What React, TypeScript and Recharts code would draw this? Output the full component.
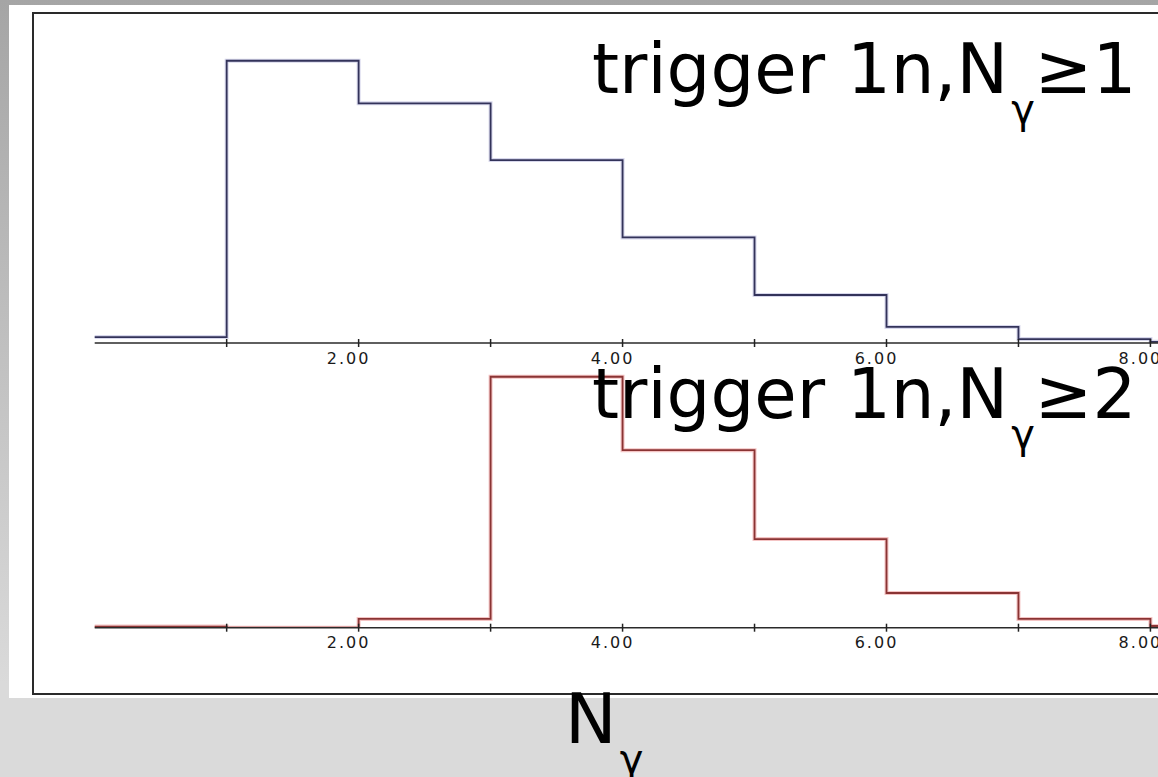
import { LineChart, Line, XAxis, YAxis } from 'recharts'

// bin lower edges (N_gamma), the last one only closes the final step
const binEdges = [0, 1, 2, 3, 4, 5, 6, 7, 8, 9]
// trigger 1n, N_gamma >= 1 (arbitrary units)
const countsGe1 = [21, 1000, 849, 648, 374, 170, 57, 14, 4]
// trigger 1n, N_gamma >= 2 (same units)
const countsGe2 = [4, 0, 31, 889, 629, 314, 123, 31, 6]

const tickValues = [1, 2, 3, 4, 5, 6, 7, 8]
const tickLabels = ['', '2.00', '', '4.00', '', '6.00', '', '8.00']

const FONT = '"DejaVu Sans", sans-serif'

function toRows(counts: number[]) {
  return binEdges.map((x, i) => ({ x, v: counts[Math.min(i, counts.length - 1)] }))
}

function AxisTick({ x, y, payload }: any) {
  const label = tickLabels[tickValues.indexOf(payload.value)] ?? ''
  return (
    <g>
      <line x1={x} x2={x} y1={y - 4} y2={y + 4} stroke="#222" strokeWidth={1.5} />
      {label && (
        <text
          x={x - 10}
          y={y + 20.5}
          textAnchor="middle"
          fontSize={16}
          letterSpacing={2}
          fontFamily={FONT}
          fill="#1a1a1a"
        >
          {label}
        </text>
      )}
    </g>
  )
}

interface StepPanelProps {
  counts: number[]
  stroke: string
  halo: string
  height: number
  marginTop: number
  marginBottom: number
}

function StepPanel({ counts, stroke, halo, height, marginTop, marginBottom }: StepPanelProps) {
  const data = toRows(counts)
  return (
    <div style={{ position: 'absolute', left: 0, top: 0 }}>
      <LineChart
        width={1300}
        height={height}
        data={data}
        margin={{ top: marginTop, right: 17.6, bottom: marginBottom, left: 94.7 }}
      >
        <XAxis
          type="number"
          dataKey="x"
          domain={[0, 9]}
          ticks={tickValues}
          interval={0}
          height={30}
          tickSize={0}
          tickMargin={0}
          tickLine={false}
          axisLine={{ stroke: '#2a2a2a', strokeWidth: 1.5 }}
          tick={<AxisTick />}
        />
        <YAxis hide domain={[0, 1100]} allowDataOverflow />
        <Line
          type="stepAfter"
          dataKey="v"
          stroke={halo}
          strokeWidth={4}
          dot={false}
          activeDot={false}
          isAnimationActive={false}
        />
        <Line
          type="stepAfter"
          dataKey="v"
          stroke={stroke}
          strokeWidth={1.8}
          dot={false}
          activeDot={false}
          isAnimationActive={false}
        />
      </LineChart>
    </div>
  )
}

export default function App() {
  return (
    <div
      style={{
        position: 'absolute',
        left: 0,
        top: 0,
        width: 1158,
        height: 777,
        overflow: 'hidden',
        background: 'linear-gradient(to bottom, #a5a5a5 0%, #dadada 88%, #dadada 100%)',
      }}
    >
      <div
        style={{ position: 'absolute', left: 9, top: 5, width: 1200, height: 693, background: '#fff' }}
      />
      <div
        style={{
          position: 'absolute',
          left: 32,
          top: 12,
          width: 1200,
          height: 679,
          border: '2px solid #2a2a2a',
        }}
      />
      <StepPanel
        counts={countsGe1}
        stroke="#33335a"
        halo="#d8d8ec"
        height={380}
        marginTop={32.5}
        marginBottom={7}
      />
      <StepPanel
        counts={countsGe2}
        stroke="#8a3434"
        halo="#f4c4c4"
        height={665}
        marginTop={317.2}
        marginBottom={7.3}
      />
      <svg
        width={1158}
        height={777}
        style={{ position: 'absolute', left: 0, top: 0, pointerEvents: 'none' }}
      >
        <text x={592} y={93} fontSize={69} fontFamily={FONT} fill="#000">
          trigger 1n,N
          <tspan fontSize={40} dy={30} dx={3}>γ</tspan>
          <tspan fontSize={69} dy={-30}>≥1</tspan>
        </text>
        <text x={592} y={418} fontSize={69} fontFamily={FONT} fill="#000">
          trigger 1n,N
          <tspan fontSize={40} dy={30} dx={3}>γ</tspan>
          <tspan fontSize={69} dy={-30}>≥2</tspan>
        </text>
        <text x={565} y={743} fontSize={69} fontFamily={FONT} fill="#000">
          N
          <tspan fontSize={40} dy={30} dx={3}>γ</tspan>
        </text>
      </svg>
    </div>
  )
}
